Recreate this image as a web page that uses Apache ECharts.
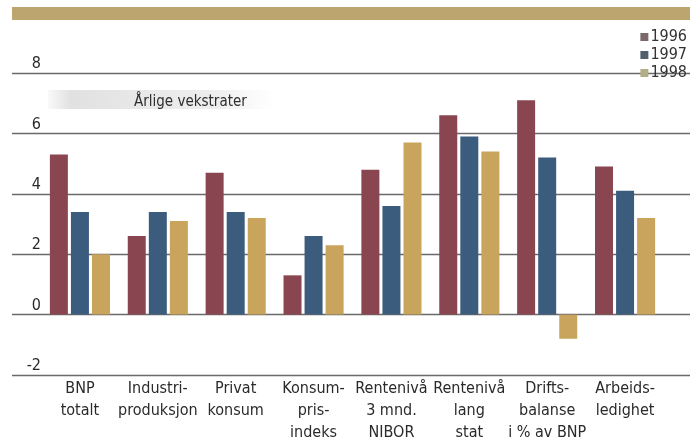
<!DOCTYPE html>
<html>
<head>
<meta charset="utf-8">
<script src="https://cdn.jsdelivr.net/npm/echarts@6/dist/echarts.min.js"></script>
<style>html,body{margin:0;padding:0;background:#fff}#c{width:696px;height:444px}</style>
</head>
<body>
<div id="c"></div>
<script>
const categories = ["BNP\ntotalt", "Industri-\nproduksjon", "Privat\nkonsum", "Konsum-\npris-\nindeks", "Rentenivå\n3 mnd.\nNIBOR", "Rentenivå\nlang\nstat", "Drifts-\nbalanse\ni % av BNP", "Arbeids-\nledighet"];
const years = ["1996", "1997", "1998"];
const v1996 = [5.3, 2.6, 4.7, 1.3, 4.8, 6.6, 7.1, 4.9];
const v1997 = [3.4, 3.4, 3.4, 2.6, 3.6, 5.9, 5.2, 4.1];
const v1998 = [2.0, 3.1, 3.2, 2.3, 5.7, 5.4, -0.8, 3.2];
const yMin = -2, yMax = 8, yStep = 2;
const titleText = "Årlige vekstrater";

const FONT = "DejaVu Sans Condensed";
const colors = ["#8a4650", "#3c5c7e", "#c9a45c"];
const legendColors = ["#7a686b", "#4e5f6e", "#b4ae88"];

const chart = echarts.init(document.getElementById('c'), null, {renderer: 'canvas'});
chart.setOption({
  backgroundColor: '#ffffff',
  animation: false,
  title: {
    text: titleText, left: 129, top: 90,
    textStyle: {fontFamily: FONT, fontSize: 15, fontWeight: 'normal', color: '#2e2e2e'}
  },
  graphic: [
    {type: 'rect', shape: {x: 12, y: 7, width: 678, height: 13}, style: {fill: '#bca56f'}, z: -1},
    {type: 'rect', shape: {x: 48, y: 90, width: 230, height: 19}, z: -1,
      style: {fill: new echarts.graphic.LinearGradient(0, 0, 1, 0, [
        {offset: 0, color: 'rgba(225,225,225,0.2)'},
        {offset: 0.1, color: 'rgba(225,225,225,1)'},
        {offset: 0.75, color: 'rgba(235,235,235,0.8)'},
        {offset: 1, color: 'rgba(245,245,245,0)'}])}}
  ],
  legend: {
    orient: 'vertical', right: 4, top: 24, itemWidth: 8, itemHeight: 8, itemGap: 2,
    icon: 'rect',
    data: years.map((y, i) => ({name: y, itemStyle: {color: legendColors[i]}})),
    textStyle: {fontFamily: FONT, fontSize: 16, color: '#333', lineHeight: 13, padding: [0, 0, 0, -3]}
  },
  grid: [
    {left: 12, right: 6, top: 73, bottom: 69, outerBoundsMode: 'none', containLabel: false},
    {left: 41, right: 32, top: 73, bottom: 69, outerBoundsMode: 'none', containLabel: false}
  ],
  xAxis: [
    {gridIndex: 0, type: 'value', show: false, min: 0, max: 1},
    {gridIndex: 1, type: 'category', data: categories,
      axisLine: {show: false}, axisTick: {show: false},
      axisLabel: {fontFamily: FONT, fontSize: 16, color: '#2a2a2a', lineHeight: 22, margin: 3, interval: 0}}
  ],
  yAxis: [
    {gridIndex: 0, type: 'value', min: yMin, max: yMax, interval: yStep,
      axisLine: {show: false}, axisTick: {show: false},
      splitLine: {lineStyle: {color: '#6a6a6a', width: 1.3}},
      axisLabel: {inside: true, align: 'right', verticalAlign: 'bottom', margin: 29,
        fontFamily: FONT, fontSize: 16, color: '#2a2a2a', padding: [0, 0, 1, 0]}},
    {gridIndex: 1, type: 'value', min: yMin, max: yMax, interval: yStep, show: false,
      splitLine: {show: false}}
  ],
  series: [v1996, v1997, v1998].map((d, i) => ({
    name: years[i], type: 'bar', xAxisIndex: 1, yAxisIndex: 1, data: d,
    barWidth: 18, barGap: '17%', itemStyle: {color: colors[i]}
  }))
});
</script>
</body>
</html>
